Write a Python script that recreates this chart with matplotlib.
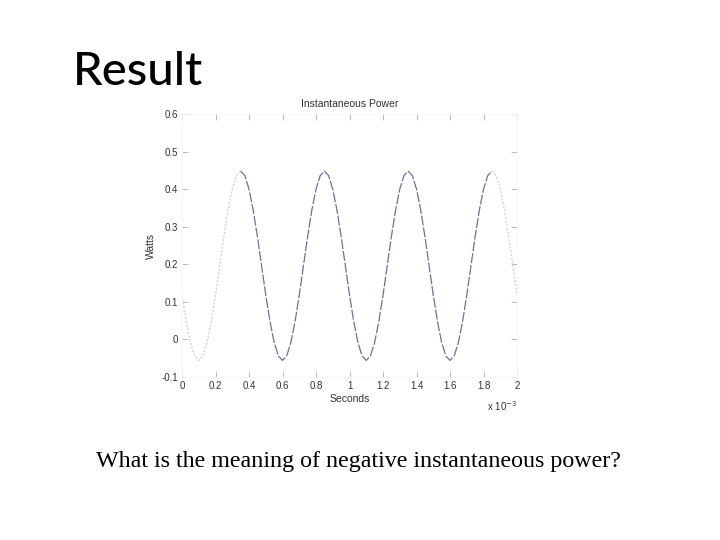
import numpy as np
import matplotlib
matplotlib.use("Agg")
import matplotlib.pyplot as plt

# 数据：瞬时功率（W），每 0.025 ms 采样一次，读自原图
dt = 0.025e-3
power = [
    0.118, 0.048, -0.008, -0.044, -0.056, -0.044, -0.008, 0.048, 0.118, 0.196,
    0.274, 0.344, 0.400, 0.436, 0.448, 0.436, 0.400, 0.344, 0.274, 0.196,
    0.118, 0.048, -0.008, -0.044, -0.056, -0.044, -0.008, 0.048, 0.118, 0.196,
    0.274, 0.344, 0.400, 0.436, 0.448, 0.436, 0.400, 0.344, 0.274, 0.196,
    0.118, 0.048, -0.008, -0.044, -0.056, -0.044, -0.008, 0.048, 0.118, 0.196,
    0.274, 0.344, 0.400, 0.436, 0.448, 0.436, 0.400, 0.344, 0.274, 0.196,
    0.118, 0.048, -0.008, -0.044, -0.056, -0.044, -0.008, 0.048, 0.118, 0.196,
    0.274, 0.344, 0.400, 0.436, 0.448, 0.436, 0.400, 0.344, 0.274, 0.196,
    0.118,
]
t = np.arange(len(power)) * dt

x_ticks = [0, 0.2e-3, 0.4e-3, 0.6e-3, 0.8e-3, 1.0e-3, 1.2e-3, 1.4e-3, 1.6e-3, 1.8e-3, 2.0e-3]
x_tick_labels = ["0", "0.2", "0.4", "0.6", "0.8", "1", "1.2", "1.4", "1.6", "1.8", "2"]
y_ticks = [-0.1, 0, 0.1, 0.2, 0.3, 0.4, 0.5, 0.6]
y_tick_labels = ["-0.1", "0", "0.1", "0.2", "0.3", "0.4", "0.5", "0.6"]

fig = plt.figure(figsize=(7.2, 5.4), dpi=100)
fig.patch.set_facecolor("white")

# 幻灯片标题和说明文字
fig.text(0.101, 0.866, "Result", fontsize=34, family="Lato", weight="medium",
         color="black", ha="left", va="center")
fig.text(0.498, 0.146, "What is the meaning of negative instantaneous power?",
         fontsize=17.3, family="Liberation Serif", color="black",
         ha="center", va="center")

ax = fig.add_axes([0.2528, 0.3019, 0.4653, 0.487])
ax.set_facecolor("white")

faint = "#c9c9d9"
dark = "#6f6f9c"
i1, i2 = 14, 74
ax.plot(t[:i1 + 1], power[:i1 + 1], color=faint, lw=0.9, ls=(0, (1.5, 1.5)))
ax.plot(t[i1:i2 + 1], power[i1:i2 + 1], color=dark, lw=0.9, ls=(0, (8, 1.5)))
ax.plot(t[i2:], power[i2:], color=faint, lw=0.9, ls=(0, (1.5, 1.5)))

ax.set_xlim(0, 2e-3)
ax.set_ylim(-0.1, 0.6)
ax.set_xticks(x_ticks)
ax.set_xticklabels(x_tick_labels)
ax.set_yticks(y_ticks)
ax.set_yticklabels(y_tick_labels)
ax.tick_params(direction="in", length=4, width=0.6, color="#b0b0b0",
               labelsize=7, labelcolor="#333333", top=True, right=True, pad=3)
for lab in ax.get_xticklabels() + ax.get_yticklabels():
    lab.set_family("Liberation Sans")
for sp in ax.spines.values():
    sp.set_color("#f5f5f5")
    sp.set_linewidth(0.6)

ax.set_title("Instantaneous Power", fontsize=7.5, family="Liberation Sans",
             color="#333333", pad=5)
ax.set_xlabel("Seconds", fontsize=7.5, family="Liberation Sans", color="#333333",
              labelpad=2)
ax.set_ylabel("Watts", fontsize=7.5, family="Liberation Sans", color="#333333",
              labelpad=4)
ax.text(1.0, -0.085, r"x 10$^{-3}$", transform=ax.transAxes, fontsize=7,
        family="Liberation Sans", color="#333333", ha="right", va="top")

fig.savefig("out.png", dpi=100, facecolor="white")
